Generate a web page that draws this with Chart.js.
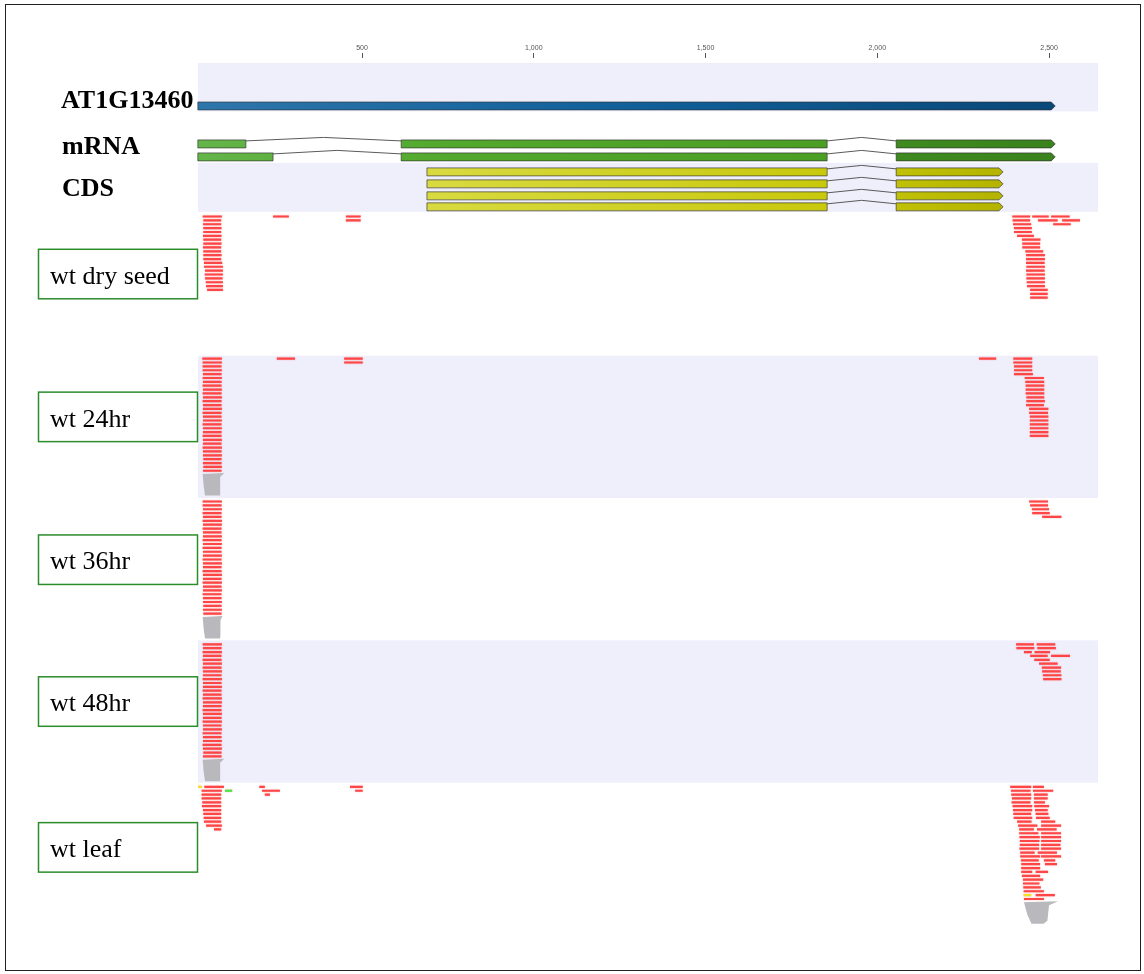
<!DOCTYPE html>
<html>
<head>
<meta charset="utf-8">
<title>AT1G13460 small RNA reads</title>
<script src="https://cdn.jsdelivr.net/npm/chart.js@4/dist/chart.umd.min.js"></script>
<style>
  html, body { margin: 0; padding: 0; background: #ffffff; }
  canvas { display: block; }
</style>
</head>
<body>
<canvas id="browser" width="1144" height="974"></canvas>
<script>
// ---- coordinate ruler ----
const tickValues = [500, 1000, 1500, 2000, 2500];

// ---- gene model (bp) ----
const geneName = 'AT1G13460';
const geneSpan = [22, 2518];
const mrnaExons = [
  [[22, 162], [614, 1854], [2055, 2518]],
  [[22, 241], [614, 1854], [2055, 2518]]
];
const cdsExons = [
  [[689, 1854], [2055, 2366]],
  [[689, 1854], [2055, 2366]],
  [[689, 1854], [2055, 2366]],
  [[689, 1854], [2055, 2366]]
];

// ---- samples ----
const sampleNames = ['wt dry seed', 'wt 24hr', 'wt 36hr', 'wt 48hr', 'wt leaf'];

// reads: [start, end, lane]
const readsDrySeed = [
  [36,92,0],[38,90,1],[37,90,2],[38,91,3],[38,90,4],[37,91,5],[38,90,6],[38,91,7],[37,90,8],[38,90,9],
  [38,91,10],[38,90,11],[40,93,12],[40,95,13],[43,95,14],[42,95,15],[43,94,16],[45,95,17],[46,95,18],[49,95,19],
  [241,287,0],[453,496,0],[453,496,1],
  [2393,2445,0],[2451,2499,0],[2506,2560,0],
  [2394,2445,1],[2468,2525,1],[2538,2590,1],
  [2395,2448,2],[2512,2563,2],
  [2398,2450,3],[2398,2450,4],[2407,2456,5],[2421,2475,6],[2422,2474,7],[2422,2474,8],[2431,2483,9],
  [2433,2488,10],[2433,2488,11],[2433,2487,12],[2434,2488,13],[2433,2487,14],[2434,2488,15],[2434,2488,16],
  [2435,2488,17],[2436,2488,18],[2445,2496,19],[2445,2496,20],[2445,2496,21]
];
const reads24hr = [
  [35,92,0],[36,92,1],[36,91,2],[36,92,3],[37,91,4],[36,92,5],[37,91,6],[36,91,7],[37,92,8],[36,91,9],
  [37,92,10],[36,91,11],[37,91,12],[37,92,13],[36,91,14],[37,91,15],[37,92,16],[36,91,17],[37,92,18],[37,91,19],
  [36,91,20],[37,92,21],[37,91,22],[36,92,23],[37,91,24],[37,92,25],[38,91,26],[37,91,27],[38,92,28],[37,91,29],
  [252,305,0],[448,502,0],[448,502,1],[2296,2346,0],
  [2396,2451,0],[2396,2451,1],[2398,2451,2],[2398,2451,3],[2398,2453,4],
  [2429,2485,5],[2431,2486,6],[2432,2486,7],[2432,2486,8],[2432,2486,9],[2434,2486,10],[2434,2488,11],[2433,2485,12],
  [2442,2498,13],[2442,2497,14],[2444,2498,15],[2444,2498,16],[2444,2498,17],[2444,2498,18],[2444,2498,19],[2444,2498,20]
];
const reads36hr = [
  [36,92,0],[36,91,1],[37,92,2],[36,91,3],[37,91,4],[36,92,5],[37,92,6],[36,91,7],[37,91,8],[37,92,9],
  [36,91,10],[37,92,11],[36,91,12],[37,91,13],[37,92,14],[36,91,15],[37,92,16],[37,91,17],[36,91,18],[37,92,19],
  [37,91,20],[36,92,21],[37,91,22],[37,92,23],[36,91,24],[37,91,25],[37,92,26],[38,91,27],[37,92,28],[38,91,29],
  [2442,2497,0],[2445,2497,1],[2450,2500,2],[2451,2502,3],[2480,2536,4]
];
const reads48hr = [
  [36,92,0],[37,91,1],[36,92,2],[37,91,3],[36,91,4],[37,92,5],[36,91,6],[37,92,7],[37,91,8],[36,92,9],
  [37,91,10],[37,92,11],[36,91,12],[37,91,13],[36,92,14],[37,92,15],[37,91,16],[36,91,17],[37,92,18],[37,91,19],
  [36,92,20],[37,91,21],[37,92,22],[36,91,23],[37,91,24],[37,92,25],[36,91,26],[37,92,27],[38,91,28],[37,91,29],
  [2404,2456,0],[2464,2518,0],[2405,2457,1],[2466,2520,1],[2427,2450,2],[2458,2503,2],
  [2445,2496,3],[2506,2561,3],[2457,2502,4],[2471,2525,5],[2479,2535,6],[2480,2534,7],[2482,2536,8],[2483,2536,9]
];
const readsLeaf = [
  [41,98,0],[201,217,0],[465,502,0],
  [33,92,1],[209,261,1],[480,502,1],
  [33,90,2],[217,232,2],
  [33,90,3],[35,90,4],[34,90,5],[37,90,6],[38,90,7],[39,90,8],[40,90,9],[46,92,10],[69,90,11],
  [2387,2448,0],[2453,2485,0],[2389,2446,1],[2453,2512,1],[2390,2448,2],[2456,2496,2],[2392,2448,3],[2456,2496,3],
  [2391,2446,4],[2456,2488,4],[2394,2451,5],[2457,2500,5],[2395,2451,6],[2459,2496,6],[2396,2448,7],[2461,2498,7],
  [2397,2451,8],[2462,2502,8],[2407,2449,9],[2477,2518,9],[2410,2466,10],[2477,2535,10],[2413,2456,11],[2465,2522,11],
  [2413,2469,12],[2477,2535,12],[2414,2473,13],[2477,2535,13],[2415,2472,14],[2477,2535,14],[2415,2471,15],[2477,2533,15],
  [2414,2471,16],[2477,2535,16],[2416,2458,17],[2467,2523,17],[2416,2474,18],[2477,2535,18],[2418,2470,19],[2485,2518,19],
  [2419,2474,20],[2488,2523,20],[2419,2474,21],[2419,2451,22],[2461,2497,22],[2421,2474,23],[2424,2483,24],
  [2424,2472,25],[2425,2476,26],[2426,2485,27],[2461,2517,28],[2427,2485,29]
];
// mismatched reads in the leaf library
const readsLeafYellow = [[22,33,0],[2426,2448,28]];
const readsLeafGreen = [[101,122,1]];

// collapsed read piles: [start, end, neck, base start, base end, track]
const readPiles = [
  [36, 99, 87, 43, 87, 1],
  [36, 94, 88, 43, 87, 2],
  [36, 99, 87, 43, 87, 3],
  [2427, 2526, 2500, 2449, 2484, 4]
];

// ---- layout ----
const TRACK_TOP = [211, 355, 497, 640, 782];
const TRACK_H = 142.5;
const SHADED = [false, true, false, true, false];
const FIRST_LANE = [4.7, 3, 4, 4, 4.7];
const LANE_PITCH = 3.87;
const LABEL_BOX_TOP = [248, 391, 534, 676, 822];
const LAVENDER = '#efeffc';
const PLOT_LEFT = 198, PLOT_RIGHT = 1098, PLOT_TOP = 57, PLOT_BOTTOM = 940;

const laneY = (t, lane) => TRACK_TOP[t] + FIRST_LANE[t] + lane * LANE_PITCH;

function readSeries(reads, t) {
  const pts = [];
  reads.forEach(([s, e, lane]) => {
    const y = laneY(t, lane);
    pts.push({x: s, y: y}, {x: e, y: y}, {x: e, y: null});
  });
  return pts;
}

function readDataset(reads, t, color) {
  return {
    data: readSeries(reads, t),
    borderColor: color,
    borderWidth: 2.2,
    borderCapStyle: 'butt',
    pointRadius: 0,
    pointHoverRadius: 0,
    spanGaps: false,
    tension: 0,
    fill: false
  };
}

const RED = '#ff4646';
const datasets = [
  readDataset(readsDrySeed, 0, RED),
  readDataset(reads24hr, 1, RED),
  readDataset(reads36hr, 2, RED),
  readDataset(reads48hr, 3, RED),
  readDataset(readsLeaf, 4, RED),
  readDataset(readsLeafYellow, 4, '#f2e21c'),
  readDataset(readsLeafGreen, 4, '#49e83c')
];

// ---- drawing helpers for gene features ----
function featurePath(ctx, px1, px2, top, h, arrow) {
  ctx.beginPath();
  if (arrow) {
    const a = Math.min(4, px2 - px1);
    ctx.moveTo(px1, top);
    ctx.lineTo(px2 - a, top);
    ctx.lineTo(px2, top + h / 2);
    ctx.lineTo(px2 - a, top + h);
    ctx.lineTo(px1, top + h);
  } else {
    ctx.rect(px1, top, px2 - px1, h);
  }
  ctx.closePath();
}

function drawTranscript(ctx, xs, exons, top, h, fill, arrowEnd) {
  // introns as raised chevrons
  ctx.strokeStyle = '#5a5a5a';
  ctx.lineWidth = 1;
  for (let i = 0; i < exons.length - 1; i++) {
    const a = xs.getPixelForValue(exons[i][1]);
    const b = xs.getPixelForValue(exons[i + 1][0]);
    ctx.beginPath();
    ctx.moveTo(a, top + 1);
    ctx.lineTo((a + b) / 2, top - 2.5);
    ctx.lineTo(b, top + 1);
    ctx.stroke();
  }
  exons.forEach((ex, i) => {
    const p1 = xs.getPixelForValue(ex[0]);
    const p2 = xs.getPixelForValue(ex[1]);
    featurePath(ctx, p1, p2, top, h, arrowEnd && i === exons.length - 1);
    ctx.fillStyle = fill;
    ctx.fill();
    ctx.strokeStyle = 'rgba(45,45,45,0.8)';
    ctx.lineWidth = 0.8;
    ctx.stroke();
  });
}

const browserTracks = {
  id: 'browserTracks',
  beforeDatasetsDraw(chart) {
    const ctx = chart.ctx;
    const xs = chart.scales.x;
    const ys = chart.scales.y;
    const L = chart.chartArea.left, R = chart.chartArea.right;
    ctx.save();
    // shaded track bands
    ctx.fillStyle = LAVENDER;
    ctx.fillRect(L, ys.getPixelForValue(62), R - L, ys.getPixelForValue(110.5) - ys.getPixelForValue(62));
    ctx.fillRect(L, ys.getPixelForValue(162), R - L, ys.getPixelForValue(211) - ys.getPixelForValue(162));
    SHADED.forEach((s, t) => {
      if (!s) return;
      const y0 = ys.getPixelForValue(TRACK_TOP[t]);
      ctx.fillRect(L, y0, R - L, ys.getPixelForValue(TRACK_TOP[t] + TRACK_H) - y0);
    });

    const gx1 = xs.getPixelForValue(geneSpan[0]);
    const gx2 = xs.getPixelForValue(geneSpan[1]);

    // gene
    const gGene = ctx.createLinearGradient(gx1, 0, gx2, 0);
    gGene.addColorStop(0, '#2e75aa');
    gGene.addColorStop(0.5, '#11609a');
    gGene.addColorStop(1, '#0a4878');
    featurePath(ctx, gx1, gx2, ys.getPixelForValue(101), 8, true);
    ctx.fillStyle = gGene;
    ctx.fill();
    ctx.strokeStyle = 'rgba(40,40,40,0.7)';
    ctx.lineWidth = 0.8;
    ctx.stroke();

    // mRNA
    const gm = ctx.createLinearGradient(gx1, 0, gx2, 0);
    gm.addColorStop(0, '#64b54a');
    gm.addColorStop(0.3, '#52a82c');
    gm.addColorStop(0.75, '#4a9e24');
    gm.addColorStop(0.78, '#3f8c20');
    gm.addColorStop(1, '#3a821c');
    const mrnaTop = [139, 152];
    mrnaExons.forEach((ex, i) => drawTranscript(ctx, xs, ex, ys.getPixelForValue(mrnaTop[i]), 8, gm, true));

    // CDS
    const gc = ctx.createLinearGradient(xs.getPixelForValue(cdsExons[0][0][0]), 0, xs.getPixelForValue(cdsExons[0][1][1]), 0);
    gc.addColorStop(0, '#d8da40');
    gc.addColorStop(0.7, '#c8c80c');
    gc.addColorStop(1, '#b4b400');
    const cdsTop = [167, 179, 191, 202];
    cdsExons.forEach((ex, i) => drawTranscript(ctx, xs, ex, ys.getPixelForValue(cdsTop[i]), 8, gc, true));

    // collapsed read piles
    ctx.fillStyle = '#b9b9bd';
    readPiles.forEach(([s, e, neck, b1, b2, t]) => {
      const top = ys.getPixelForValue(laneY(t, 29) + 2.3);
      const h = 22.5;
      const ps = xs.getPixelForValue(s), pe = xs.getPixelForValue(e);
      const pn = xs.getPixelForValue(neck);
      const pb1 = xs.getPixelForValue(b1), pb2 = xs.getPixelForValue(b2);
      ctx.beginPath();
      ctx.moveTo(ps, top + 1);
      ctx.lineTo(pe, top);
      ctx.lineTo(pn, top + 4);
      ctx.lineTo(pn + (pb2 - pn) * 0.3, top + h - 3);
      ctx.lineTo(pb2, top + h);
      ctx.lineTo(pb1, top + h);
      ctx.lineTo(ps + (pb1 - ps) * 0.45, top + h * 0.6);
      ctx.closePath();
      ctx.fill();
    });
    ctx.restore();
  },
  beforeDatasetDraw(chart) {
    const ctx = chart.ctx;
    ctx.shadowColor = 'rgba(255,90,90,0.55)';
    ctx.shadowBlur = 1.5;
  },
  afterDatasetDraw(chart) {
    const ctx = chart.ctx;
    ctx.shadowColor = 'rgba(0,0,0,0)';
    ctx.shadowBlur = 0;
  },
  afterDraw(chart) {
    const ctx = chart.ctx;
    const ys = chart.scales.y;
    ctx.save();
    // track names
    ctx.fillStyle = '#000';
    ctx.textBaseline = 'alphabetic';
    ctx.textAlign = 'left';
    ctx.font = 'bold 26px "Liberation Serif", "Times New Roman", serif';
    ctx.fillText(geneName, 61, ys.getPixelForValue(107));
    ctx.fillText('mRNA', 62, ys.getPixelForValue(153));
    ctx.fillText('CDS', 62, ys.getPixelForValue(195));

    // sample label boxes
    ctx.font = '26px "Liberation Serif", "Times New Roman", serif';
    sampleNames.forEach((name, t) => {
      const top = ys.getPixelForValue(LABEL_BOX_TOP[t]);
      ctx.strokeStyle = '#2b8c2b';
      ctx.lineWidth = 1.5;
      ctx.strokeRect(38.5, top + 0.5, 159, 49.5);
      ctx.fillStyle = '#000';
      ctx.fillText(name, 50, top + 35);
    });

    // frame
    ctx.strokeStyle = '#222';
    ctx.lineWidth = 1;
    ctx.strokeRect(5.5, 4.5, 1135, 966);
    ctx.restore();
  }
};

new Chart(document.getElementById('browser'), {
  type: 'line',
  data: { datasets: datasets },
  options: {
    responsive: false,
    animation: false,
    events: [],
    layout: {
      padding: { left: PLOT_LEFT, right: 1144 - PLOT_RIGHT, top: 42.6, bottom: 974 - PLOT_BOTTOM }
    },
    plugins: {
      legend: { display: false },
      tooltip: { enabled: false }
    },
    scales: {
      x: {
        type: 'linear',
        position: 'top',
        min: 22.5,
        max: 2642.5,
        afterBuildTicks: (scale) => { scale.ticks = tickValues.map(v => ({ value: v })); },
        ticks: {
          autoSkip: false,
          maxRotation: 0,
          padding: 1,
          color: '#555',
          font: { family: '"Liberation Sans Narrow", "Liberation Sans", sans-serif', size: 7 },
          callback: (v) => v.toLocaleString('en-US')
        },
        grid: { drawOnChartArea: false, drawTicks: true, tickLength: 5, color: '#555', lineWidth: 1 },
        border: { display: false }
      },
      y: {
        type: 'linear',
        display: false,
        reverse: true,
        min: PLOT_TOP,
        max: PLOT_BOTTOM
      }
    }
  },
  plugins: [browserTracks]
});
</script>
</body>
</html>
